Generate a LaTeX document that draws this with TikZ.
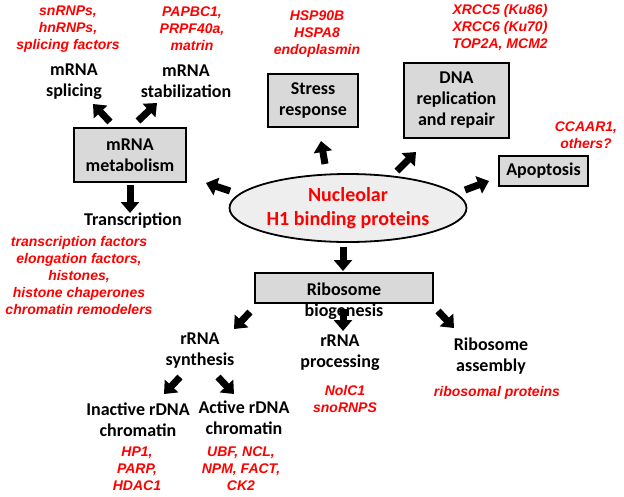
\documentclass[tikz,border=0pt]{standalone}
\usepackage{fontspec}
\usetikzlibrary{arrows.meta,shapes.geometric}
\newfontfamily\blkfont{Carlito}
\newfontfamily\redfont{Liberation Sans}
\definecolor{boxgray}{RGB}{217,217,217}
\definecolor{ellgray}{RGB}{238,238,238}
\definecolor{redtxt}{RGB}{255,0,0}
\begin{document}
\begin{tikzpicture}[x=1pt,y=-1pt,
  lbl/.style={font=\blkfont\bfseries\fontsize{18}{21}\selectfont, align=center, inner sep=0pt},
  prot/.style={font=\redfont\bfseries\itshape\fontsize{14}{17}\selectfont, text=redtxt, align=center, inner sep=0pt},
  graybox/.style={draw=black, line width=1.8pt, fill=boxgray, inner sep=0pt},
  fatarrow/.style={line width=7pt, -{Triangle[length=11pt,width=18pt]}}
]
\useasboundingbox (0,0) rectangle (624,496);
% mRNA branch
\node[prot] (sprot) at (68,29) {snRNPs,\\hnRNPs,\\splicing factors};
\node[lbl] (splice) at (74,81.5) {mRNA\\splicing};
\node[prot] (stprot) at (192,29) {PAPBC1,\\PRPF40a,\\matrin};
\node[lbl] (stab) at (186,81.5) {mRNA\\stabilization};
\node[graybox, lbl, draw=black, line width=1.8pt, fill=boxgray, minimum width=112pt, minimum height=54pt] (meta) at (130,155) {mRNA\\metabolism};
\node[lbl] (trans) at (133,221) {Transcription};
\node[prot] (transprot) at (79,275) {transcription factors\\elongation factors,\\histones,\\histone chaperones\\chromatin remodelers};
% stress
\node[prot] (stressprot) at (317,34.5) {HSP90B\\HSPA8\\endoplasmin};
\node[lbl, draw=black, line width=1.8pt, fill=boxgray, minimum width=90pt, minimum height=53pt] (stress) at (313,100.5) {Stress\\response};
% DNA
\node[prot] (dnaprot) at (500,28) {XRCC5 (Ku86)\\XRCC6 (Ku70)\\TOP2A, MCM2};
\node[lbl, draw=black, line width=1.8pt, fill=boxgray, minimum width=105pt, minimum height=75pt] (dna) at (456.5,100.5) {DNA\\replication\\and repair};
% apoptosis
\node[prot] (apoprot) at (586,135) {CCAAR1,\\others?};
\node[lbl, draw=black, line width=1.8pt, fill=boxgray, minimum width=89pt, minimum height=30pt] (apo) at (543.5,171) {Apoptosis};
% center
\node[ellipse, draw=black, line width=1.8pt, fill=ellgray, minimum width=237pt, minimum height=68pt, inner sep=0pt,
  font=\blkfont\bfseries\fontsize{20}{24}\selectfont, text=redtxt, align=center] (nuc) at (348,208) {Nucleolar\\H1 binding proteins};
% ribosome
\node[draw=black, line width=1.8pt, fill=boxgray, minimum width=178pt, minimum height=30pt, inner sep=0pt] (ribbox) at (344,288) {};
\node[lbl] (rib) at (344,301) {Ribosome\\biogenesis};
\node[lbl] (rsyn) at (200,350.5) {rRNA\\synthesis};
\node[lbl] (rproc) at (340,352.5) {rRNA\\processing};
\node[prot] (procprot) at (345,398.5) {NolC1\\snoRNPS};
\node[lbl] (rasm) at (491,356) {Ribosome\\assembly};
\node[prot] (asmprot) at (497,393) {ribosomal proteins};
\node[lbl] (inact) at (138,420) {Inactive rDNA\\chromatin};
\node[lbl] (act) at (244,417.5) {Active rDNA\\chromatin};
\node[prot] (inprot) at (137,469) {HP1,\\PARP,\\HDAC1};
\node[prot] (actprot) at (241,469) {UBF, NCL,\\NPM, FACT,\\CK2};
% arrow coordinates
\coordinate (a1s) at (110,122); \coordinate (a1e) at (93,104);
\coordinate (a2s) at (138,121); \coordinate (a2e) at (157,103);
\coordinate (a3s) at (130,185); \coordinate (a3e) at (130,213);
\coordinate (a4s) at (230,191); \coordinate (a4e) at (206,183);
\coordinate (a5s) at (325,164); \coordinate (a5e) at (321,141);
\coordinate (a6s) at (397,171); \coordinate (a6e) at (416,152);
\coordinate (a7s) at (465,190); \coordinate (a7e) at (489,181);
\coordinate (a8s) at (343,247); \coordinate (a8e) at (343,271);
\coordinate (a9s) at (250,312); \coordinate (a9e) at (234,329);
\coordinate (a10s) at (343,309); \coordinate (a10e) at (343,331);
\coordinate (a11s) at (438,311); \coordinate (a11e) at (454,328);
\coordinate (a12s) at (180,377); \coordinate (a12e) at (164,394);
\coordinate (a13s) at (218,377); \coordinate (a13e) at (234,394);
\foreach \i in {1,...,13} { \draw[fatarrow] (a\i s) -- (a\i e); }
\end{tikzpicture}
\end{document}
